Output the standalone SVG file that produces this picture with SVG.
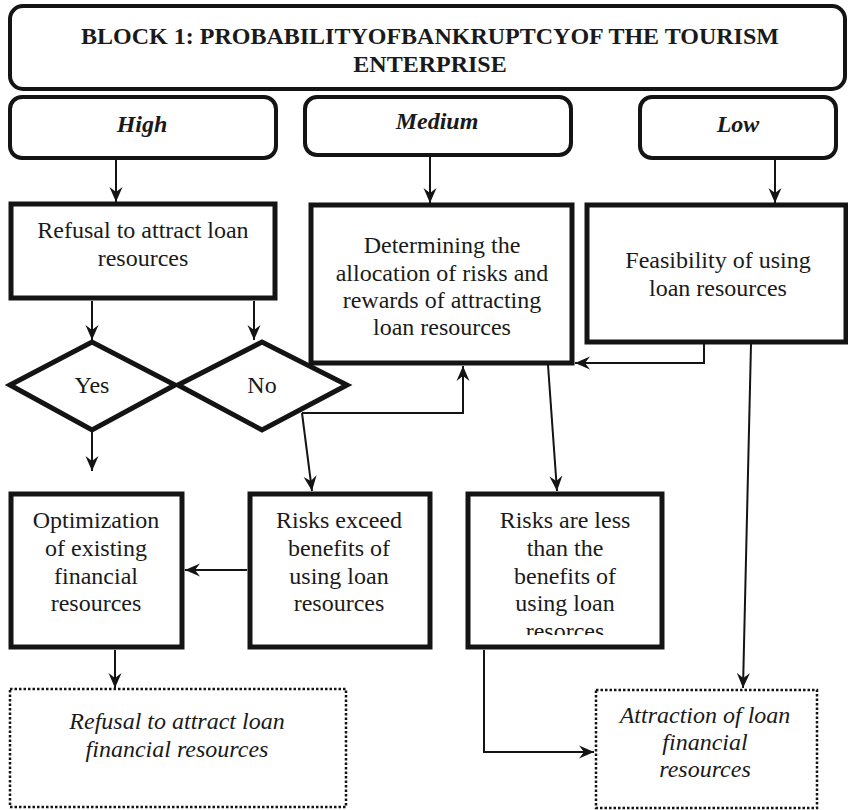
<svg xmlns="http://www.w3.org/2000/svg" width="848" height="810" viewBox="0 0 848 810">
<defs>
<style>
.t{font-family:"Liberation Serif","Times New Roman",serif;font-size:24px;fill:#1a1a1a;text-anchor:middle}
.b{font-weight:bold}
.i{font-style:italic}
.rb{fill:#fff;stroke:#141414;stroke-width:4}
.bx{fill:#fff;stroke:#141414;stroke-width:5}
.dt{fill:#fff;stroke:#141414;stroke-width:2.5;stroke-dasharray:2.5 2}
.c{fill:none;stroke:#141414;stroke-width:2}
</style>
<marker id="ar" viewBox="-15 -7 15 14" refX="0" refY="0" markerWidth="15" markerHeight="14" markerUnits="userSpaceOnUse" orient="auto">
<path d="M0,0 L-15,-6.5 L-10,0 L-15,6.5 Z" fill="#141414"/>
</marker>
<clipPath id="clipLess"><rect x="470" y="496" width="190" height="139"/></clipPath>
</defs>
<rect width="848" height="810" fill="#fff"/>

<g id="title">
<rect class="rb" x="10" y="6" width="835" height="83" rx="13"/>
<text class="t b" x="430" y="44">BLOCK 1: PROBABILITYOFBANKRUPTCYOF THE TOURISM</text>
<text class="t b" x="430" y="72">ENTERPRISE</text>
</g>

<g id="high">
<rect class="rb" x="10" y="97" width="266" height="61" rx="12"/>
<text class="t b i" x="142" y="132">High</text>
</g>
<g id="medium">
<rect class="rb" x="305" y="97" width="266" height="58" rx="12"/>
<text class="t b i" x="437" y="129">Medium</text>
</g>
<g id="low">
<rect class="rb" x="640" y="97" width="196" height="61" rx="12"/>
<text class="t b i" x="738" y="132">Low</text>
</g>

<g id="refusal">
<rect class="bx" x="11" y="204" width="264" height="94"/>
<text class="t" x="143" y="238">Refusal to attract loan</text>
<text class="t" x="143" y="266">resources</text>
</g>
<g id="determining">
<rect class="bx" x="311" y="205" width="261" height="158"/>
<text class="t" x="442" y="253">Determining the</text>
<text class="t" x="442" y="281">allocation of risks and</text>
<text class="t" x="442" y="308">rewards of attracting</text>
<text class="t" x="442" y="335">loan resources</text>
</g>
<g id="feasibility">
<rect class="bx" x="587" y="205" width="259" height="137"/>
<text class="t" x="718" y="268">Feasibility of using</text>
<text class="t" x="718" y="296">loan resources</text>
</g>

<g id="yes">
<polygon class="bx" points="10,385 92,342 175,385 92,430"/>
<text class="t" x="92" y="393">Yes</text>
</g>
<g id="no">
<polygon class="bx" points="178,385 262,342 347,385 262,430"/>
<text class="t" x="262" y="393">No</text>
</g>

<g id="optimization">
<rect class="bx" x="11" y="494" width="171" height="153"/>
<text class="t" x="96" y="528">Optimization</text>
<text class="t" x="96" y="556">of existing</text>
<text class="t" x="96" y="584">financial</text>
<text class="t" x="96" y="611">resources</text>
</g>
<g id="risks-exceed">
<rect class="bx" x="250" y="494" width="180" height="153"/>
<text class="t" x="339" y="528">Risks exceed</text>
<text class="t" x="339" y="556">benefits of</text>
<text class="t" x="339" y="584">using loan</text>
<text class="t" x="339" y="611">resources</text>
</g>
<g id="risks-less">
<rect class="bx" x="468" y="494" width="194" height="153"/>
<text class="t" x="565" y="528">Risks are less</text>
<text class="t" x="565" y="556">than the</text>
<text class="t" x="565" y="584">benefits of</text>
<text class="t" x="565" y="611">using loan</text>
<text class="t" x="565" y="639" clip-path="url(#clipLess)">resorces</text>
</g>

<g id="refusal-final">
<rect class="dt" x="10" y="689" width="336" height="118"/>
<text class="t i" x="177" y="729">Refusal to attract loan</text>
<text class="t i" x="177" y="757">financial resources</text>
</g>
<g id="attraction">
<rect class="dt" x="596" y="690" width="221" height="118"/>
<text class="t i" x="705" y="723">Attraction of loan</text>
<text class="t i" x="705" y="750">financial</text>
<text class="t i" x="705" y="777">resources</text>
</g>

<g id="connectors">
<path class="c" d="M116,160 L116,202" marker-end="url(#ar)"/>
<path class="c" d="M430,157 L430,203" marker-end="url(#ar)"/>
<path class="c" d="M775,160 L775,203" marker-end="url(#ar)"/>
<path class="c" d="M92,301 L92,340" marker-end="url(#ar)"/>
<path class="c" d="M254,301 L254,340" marker-end="url(#ar)"/>
<path class="c" d="M92,432 L92,471" marker-end="url(#ar)"/>
<path class="c" d="M302,413 L463,413 L463,366" marker-end="url(#ar)"/>
<path class="c" d="M302,413 L312,491" marker-end="url(#ar)"/>
<path class="c" d="M704,344 L704,363 L575,363" marker-end="url(#ar)"/>
<path class="c" d="M548,365 L557,491" marker-end="url(#ar)"/>
<path class="c" d="M751,344 L743,688" marker-end="url(#ar)"/>
<path class="c" d="M247,570 L185,570" marker-end="url(#ar)"/>
<path class="c" d="M115,650 L115,688" marker-end="url(#ar)"/>
<path class="c" d="M484,650 L484,752 L594,752" marker-end="url(#ar)"/>
</g>
</svg>
